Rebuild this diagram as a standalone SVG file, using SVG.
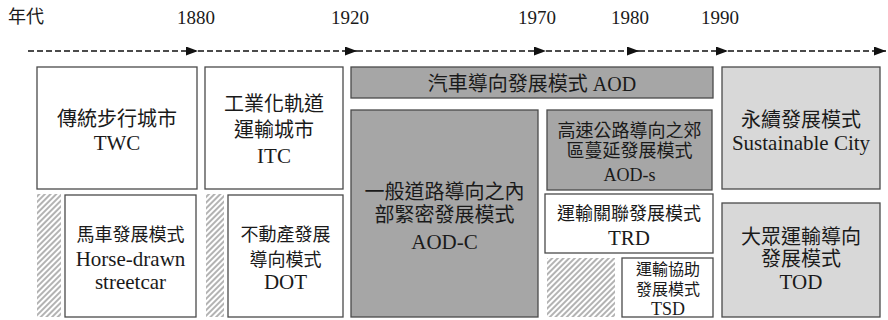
<svg xmlns="http://www.w3.org/2000/svg" width="888" height="320" viewBox="0 0 888 320">
<defs>
<marker id="ah" markerUnits="userSpaceOnUse" markerWidth="12" markerHeight="10" refX="12" refY="4.5" orient="auto">
<path d="M0,0 L12,4.5 L0,9 Z" fill="#111"/>
</marker>
<pattern id="hatch" patternUnits="userSpaceOnUse" width="4" height="4" patternTransform="rotate(45)">
<line x1="1" y1="0" x2="1" y2="4" stroke="#8a8a8a" stroke-width="1.3"/>
</pattern>
</defs>
<style>
text{font-family:"Liberation Serif","Noto Sans CJK TC",serif;fill:#1a1a1a;text-anchor:middle}
.yr{font-size:19px}
.t20{font-size:20px}
.t21{font-size:21px}
.t18{font-size:18px}
.t16{font-size:16px}
.box{stroke:#4a4a4a;stroke-width:1.3;fill:#fff}
.dk{fill:#a6a6a6}
.lt{fill:#d8d8d8}
.tl{stroke:#111;stroke-width:1.5;stroke-dasharray:6,3;fill:none}
</style>
<rect width="888" height="320" fill="#fff"/>
<g id="labels">
<text x="8" y="23" class="t18" style="text-anchor:start">年代</text>
<text x="196" y="24" class="yr">1880</text>
<text x="350" y="24" class="yr">1920</text>
<text x="537" y="24" class="yr">1970</text>
<text x="630" y="24" class="yr">1980</text>
<text x="720" y="24" class="yr">1990</text>
</g>
<g id="connectors">
<line class="tl" x1="28" y1="51" x2="198" y2="51" marker-end="url(#ah)"/>
<line class="tl" x1="198" y1="51" x2="357" y2="51" marker-end="url(#ah)"/>
<line class="tl" x1="357" y1="51" x2="546" y2="51" marker-end="url(#ah)"/>
<line class="tl" x1="546" y1="51" x2="639" y2="51" marker-end="url(#ah)"/>
<line class="tl" x1="639" y1="51" x2="728" y2="51" marker-end="url(#ah)"/>
<line class="tl" x1="728" y1="51" x2="886" y2="51" marker-end="url(#ah)"/>
</g>
<g id="twc">
<rect class="box" x="37" y="67" width="160" height="122"/>
<text x="117" y="126" class="t20">傳統步行城市</text>
<text x="117" y="150" class="t21">TWC</text>
</g>
<g id="itc">
<rect class="box" x="205" y="67" width="138" height="122"/>
<text x="274" y="111" class="t20">工業化軌道</text>
<text x="274" y="137" class="t20">運輸城市</text>
<text x="274" y="163" class="t21">ITC</text>
</g>
<g id="hatch1"><rect x="37" y="194" width="24" height="123" fill="url(#hatch)"/></g>
<g id="horse">
<rect class="box" x="65" y="195" width="131" height="122"/>
<text x="130.5" y="241" class="t18">馬車發展模式</text>
<text x="130.5" y="266" class="t21">Horse-drawn</text>
<text x="130.5" y="289" class="t21">streetcar</text>
</g>
<g id="hatch2"><rect x="206" y="194" width="18" height="123" fill="url(#hatch)"/></g>
<g id="dot">
<rect class="box" x="228" y="195" width="115" height="122"/>
<text x="285.5" y="241" class="t18">不動產發展</text>
<text x="285.5" y="266" class="t18">導向模式</text>
<text x="285.5" y="289" class="t21">DOT</text>
</g>
<g id="aod">
<rect class="box dk" x="351" y="67" width="362" height="31"/>
<text x="532" y="91" class="t20">汽車導向發展模式 AOD</text>
</g>
<g id="aodc">
<rect class="box dk" x="351" y="110" width="187" height="207"/>
<text x="444.5" y="199" class="t20">一般道路導向之內</text>
<text x="444.5" y="222" class="t20">部緊密發展模式</text>
<text x="444.5" y="249" class="t21">AOD-C</text>
</g>
<g id="aods">
<rect class="box dk" x="547" y="110" width="165" height="80"/>
<text x="629.5" y="137" class="t18">高速公路導向之郊</text>
<text x="629.5" y="157" class="t18">區蔓延發展模式</text>
<text x="629.5" y="181" class="t18">AOD-s</text>
</g>
<g id="trd">
<rect class="box" x="545" y="194" width="168" height="59"/>
<text x="629" y="220" class="t18">運輸關聯發展模式</text>
<text x="629" y="245" class="t21">TRD</text>
</g>
<g id="hatch3"><rect x="547" y="258" width="68" height="59" fill="url(#hatch)"/></g>
<g id="tsd">
<rect class="box" x="622" y="258" width="91" height="59"/>
<text x="668" y="275" class="t16">運輸協助</text>
<text x="668" y="295" class="t16">發展模式</text>
<text x="668" y="315" class="t18">TSD</text>
</g>
<g id="sus">
<rect class="box lt" x="722" y="67" width="158" height="122"/>
<text x="801" y="127" class="t20">永續發展模式</text>
<text x="801" y="150" class="t21">Sustainable City</text>
</g>
<g id="tod">
<rect class="box lt" x="722" y="203" width="158" height="114"/>
<text x="801" y="244" class="t20">大眾運輸導向</text>
<text x="801" y="266" class="t20">發展模式</text>
<text x="801" y="289" class="t21">TOD</text>
</g>
</svg>
